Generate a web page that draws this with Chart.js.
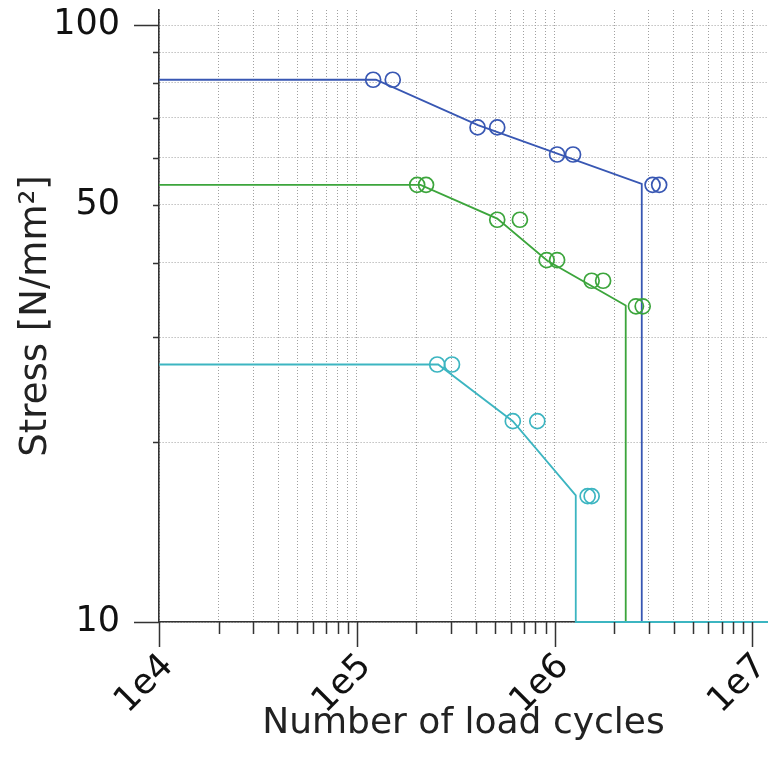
<!DOCTYPE html>
<html>
<head>
<meta charset="utf-8">
<script src="https://cdn.jsdelivr.net/npm/chart.js@4"></script>
<style>
  body { margin: 0; background: #fff; }
  #wrap { width: 768px; height: 774px; }
</style>
</head>
<body>
<div id="wrap"><canvas id="snChart"></canvas></div>
<script>
// S-N curves (stress vs. number of load cycles), log-log

// axis ticks
const xTickVals = [1e4, 2e4, 3e4, 4e4, 5e4, 6e4, 7e4, 8e4, 9e4,
                   1e5, 2e5, 3e5, 4e5, 5e5, 6e5, 7e5, 8e5, 9e5,
                   1e6, 2e6, 3e6, 4e6, 5e6, 6e6, 7e6, 8e6, 9e6, 1e7];
const xMajorVals = [1e4, 1e5, 1e6, 1e7];
const xTickLabels = ['1e4', '1e5', '1e6', '1e7'];
const yTickVals = [10, 20, 30, 40, 50, 60, 70, 80, 90, 100];
const yMajorVals = [10, 100];
const yLabelVals = [10, 50, 100];
const yTickLabels = ['10', '50', '100'];

// blue series
const blueLineX = [1e4, 1.25e5, 4.1e5, 2.76e6, 2.76e6, 1.2e7];
const blueLineY = [81, 81, 68, 54.2, 10, 10];
const bluePtsX = [1.21e5, 1.52e5, 4.08e5, 5.13e5, 1.03e6, 1.24e6, 3.13e6, 3.38e6];
const bluePtsY = [81, 81, 67.4, 67.4, 60.7, 60.7, 54, 54];

// green series
const greenLineX = [1e4, 2.1e5, 5.13e5, 9.2e5, 2.29e6, 2.29e6, 1.2e7];
const greenLineY = [54, 54, 47.4, 40.3, 33.9, 10, 10];
const greenPtsX = [2.02e5, 2.24e5, 5.13e5, 6.68e5, 9.12e5, 1.03e6, 1.54e6, 1.76e6, 2.58e6, 2.79e6];
const greenPtsY = [54, 54, 47.2, 47.2, 40.4, 40.4, 37.3, 37.3, 33.8, 33.8];

// teal series
const tealLineX = [1e4, 2.58e5, 6.15e5, 1.28e6, 1.28e6, 1.2e7];
const tealLineY = [27, 27, 21.7, 16.3, 10, 10];
const tealPtsX = [2.55e5, 3.03e5, 6.15e5, 8.18e5, 1.47e6, 1.54e6];
const tealPtsY = [27, 27, 21.7, 21.7, 16.25, 16.25];

const BLUE = '#3857b3';
const GREEN = '#3ca53c';
const TEAL = '#3cb5c1';
const FONT = 'DejaVu Sans';

function pts(xs, ys) {
    return xs.map((x, i) => ({ x: x, y: ys[i] }));
}

function lineSet(xs, ys, color, order) {
    return {
        data: pts(xs, ys), showLine: true, borderColor: color, borderWidth: 1.8,
        pointRadius: 0, tension: 0, clip: false, order: order
    };
}

function pointSet(xs, ys, color, order) {
    return {
        data: pts(xs, ys), showLine: false, borderColor: color, backgroundColor: 'rgba(0,0,0,0)',
        pointRadius: 7.5, pointBorderWidth: 1.7, pointStyle: 'circle', order: order
    };
}

// tick marks of two lengths, placed through the scales
const tickMarks = {
    id: 'tickMarks',
    afterDraw(chart) {
        const ctx = chart.ctx;
        const xs = chart.scales.x, ys = chart.scales.y;
        ctx.save();
        ctx.strokeStyle = '#333';
        ctx.lineWidth = 1.5;
        ctx.beginPath();
        xTickVals.forEach(v => {
            const px = Math.round(xs.getPixelForValue(v)) + 0.5;
            const len = xMajorVals.includes(v) ? 25 : 12;
            ctx.moveTo(px, xs.top);
            ctx.lineTo(px, xs.top + len);
        });
        yTickVals.forEach(v => {
            const py = Math.round(ys.getPixelForValue(v)) + 0.5;
            const len = yMajorVals.includes(v) ? 25 : 6;
            ctx.moveTo(ys.right, py);
            ctx.lineTo(ys.right - len, py);
        });
        ctx.stroke();
        ctx.restore();
    }
};

const gridOpts = { color: '#a0a0a0', lineWidth: 1, drawTicks: false };
const borderOpts = { display: true, color: '#333', width: 1.6, dash: [1, 2] };

new Chart(document.getElementById('snChart'), {
    type: 'scatter',
    data: {
        datasets: [
            lineSet(tealLineX, tealLineY, TEAL, 0),
            pointSet(tealPtsX, tealPtsY, TEAL, 1),
            lineSet(greenLineX, greenLineY, GREEN, 2),
            pointSet(greenPtsX, greenPtsY, GREEN, 3),
            lineSet(blueLineX, blueLineY, BLUE, 4),
            pointSet(bluePtsX, bluePtsY, BLUE, 5)
        ]
    },
    options: {
        responsive: true,
        maintainAspectRatio: false,
        animation: false,
        layout: { autoPadding: false, padding: { top: 10, right: 0, left: 0, bottom: 0 } },
        plugins: { legend: { display: false }, tooltip: { enabled: false } },
        scales: {
            x: {
                type: 'logarithmic',
                min: 1e4,
                max: 1.2e7,
                afterBuildTicks: s => { s.ticks = xTickVals.map(v => ({ value: v })); },
                afterFit: s => { s.height = 152; s.paddingLeft = 0; s.paddingRight = 0; },
                grid: gridOpts,
                border: borderOpts,
                ticks: {
                    autoSkip: false, minRotation: 45, maxRotation: 45, padding: 24, labelOffset: 9,
                    color: '#111', font: { family: FONT, size: 35 },
                    callback: v => {
                        const i = xMajorVals.indexOf(v);
                        return i >= 0 ? xTickLabels[i] : '';
                    }
                },
                title: {
                    display: true, text: 'Number of load cycles', color: '#222',
                    font: { family: FONT, size: 36 }, padding: { top: 0, bottom: 29 }
                }
            },
            y: {
                type: 'logarithmic',
                min: 10,
                max: 106,
                afterBuildTicks: s => { s.ticks = yTickVals.map(v => ({ value: v })); },
                afterFit: s => { s.width = 159; s.paddingTop = 0; s.paddingBottom = 0; },
                grid: gridOpts,
                border: borderOpts,
                ticks: {
                    autoSkip: false, padding: 39,
                    color: '#111', font: { family: FONT, size: 35 },
                    callback: v => {
                        const i = yLabelVals.indexOf(v);
                        return i >= 0 ? yTickLabels[i] : '';
                    }
                },
                title: {
                    display: true, text: 'Stress [N/mm²]', color: '#222',
                    font: { family: FONT, size: 37 }, padding: { top: 14, bottom: 0 }
                }
            }
        }
    },
    plugins: [tickMarks]
});
</script>
</body>
</html>
